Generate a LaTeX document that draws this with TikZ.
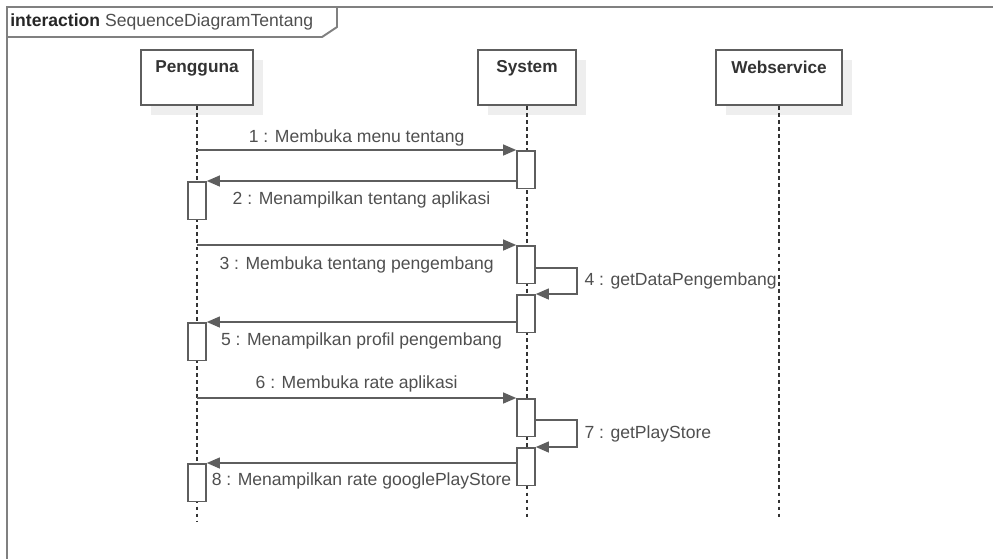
\documentclass[tikz,border=0pt]{standalone}
\usepackage{fontspec}
\setmainfont{Liberation Sans}
\usetikzlibrary{arrows.meta,shadows}
\definecolor{linegray}{HTML}{5E5E5E}
\definecolor{framegray}{HTML}{808080}
\definecolor{textgray}{HTML}{4F4F4F}
\definecolor{shadowgray}{HTML}{EEEEEE}
\tikzset{
  head/.style={draw=linegray, line width=1.1pt, fill=white, minimum height=1.1cm,
    inner sep=0pt, drop shadow={fill=shadowgray, opacity=1, shadow xshift=5.5pt, shadow yshift=-5.5pt},
    label={[anchor=north, inner sep=0pt, yshift=-6.5pt, font=\fontsize{9.8}{11}\selectfont\bfseries, text=black!80]north:#1}},
  life/.style={draw=black!80, line width=0.8pt, dash pattern=on 2.2pt off 1.8pt},
  act/.style={draw=linegray, line width=0.9pt, fill=white, minimum width=0.36cm,
    minimum height=0.75cm, inner sep=0pt, anchor=north},
  msg/.style={draw=linegray, line width=0.8pt, -{Triangle[length=7.4pt,width=6.2pt]}},
  lbl/.style={text=textgray, font=\fontsize{10}{12}\selectfont, inner sep=2pt}
}
\begin{document}
\begin{tikzpicture}[x=0.02cm, y=-0.02cm]
  \useasboundingbox (0,0) rectangle (993,559);

  \draw[framegray, line width=1.1pt] (993,7) -- (7,7) -- (7,559);
  \draw[framegray, line width=1.1pt] (7,37) -- (322,37) -- (337,27) -- (337,7);
  \node[anchor=west, inner sep=0pt, font=\fontsize{10}{12}\selectfont, text=textgray] (title) at (10,22)
    {\textcolor{black!85}{\bfseries interaction} SequenceDiagramTentang};

  \node[head=Pengguna, minimum width=2.24cm] (U) at (197,77.5) {};
  \node[head=System, minimum width=1.96cm] (S) at (527,77.5) {};
  \node[head=Webservice, minimum width=2.52cm] (W) at (779,77.5) {};

  \coordinate (endU) at (0,522);
  \coordinate (endS) at (0,517);
  \draw[life] (U.south) -- (U |- endU);
  \draw[life] (S.south) -- (S |- endS);
  \draw[life] (W.south) -- (W |- endS);

  \node[act] (s1) at (526,150) {};
  \node[act] (u1) at (197,181) {};
  \node[act] (s2) at (526,245) {};
  \node[act] (s3) at (526,294) {};
  \node[act] (u2) at (197,322) {};
  \node[act] (s4) at (526,398) {};
  \node[act] (s5) at (526,447) {};
  \node[act] (u3) at (197,463) {};

  \draw[msg] (U |- s1.north) -- (s1.north west) node[lbl, midway, above] {1 : Membuka menu tentang};
  \draw[msg] (s1.west |- u1.north) -- (u1.north east) node[lbl, midway, below, yshift=-3.5pt] {2 : Menampilkan tentang aplikasi};

  \draw[msg] (U |- s2.north) -- (s2.north west) node[lbl, midway, below, yshift=-4.5pt] {3 : Membuka tentang pengembang};
  \draw[msg] ([yshift=-2pt]s2.east) -- ++(41,0) |- (s3.north east) node[lbl, pos=0.25, right, xshift=2pt] {4 : getDataPengembang};
  \draw[msg] (s3.west |- u2.north) -- (u2.north east) node[lbl, midway, below, yshift=-3.5pt] {5 : Menampilkan profil pengembang};

  \draw[msg] (U |- s4.north) -- (s4.north west) node[lbl, midway, above, yshift=1pt] {6 : Membuka rate aplikasi};
  \draw[msg] ([yshift=-1.5pt]s4.east) -- ++(41,0) |- (s5.north east) node[lbl, pos=0.25, right, xshift=2pt] {7 : getPlayStore};
  \draw[msg] (s5.west |- u3.north) -- (u3.north east) node[lbl, midway, below, yshift=-3pt] {8 : Menampilkan rate googlePlayStore};
\end{tikzpicture}
\end{document}
